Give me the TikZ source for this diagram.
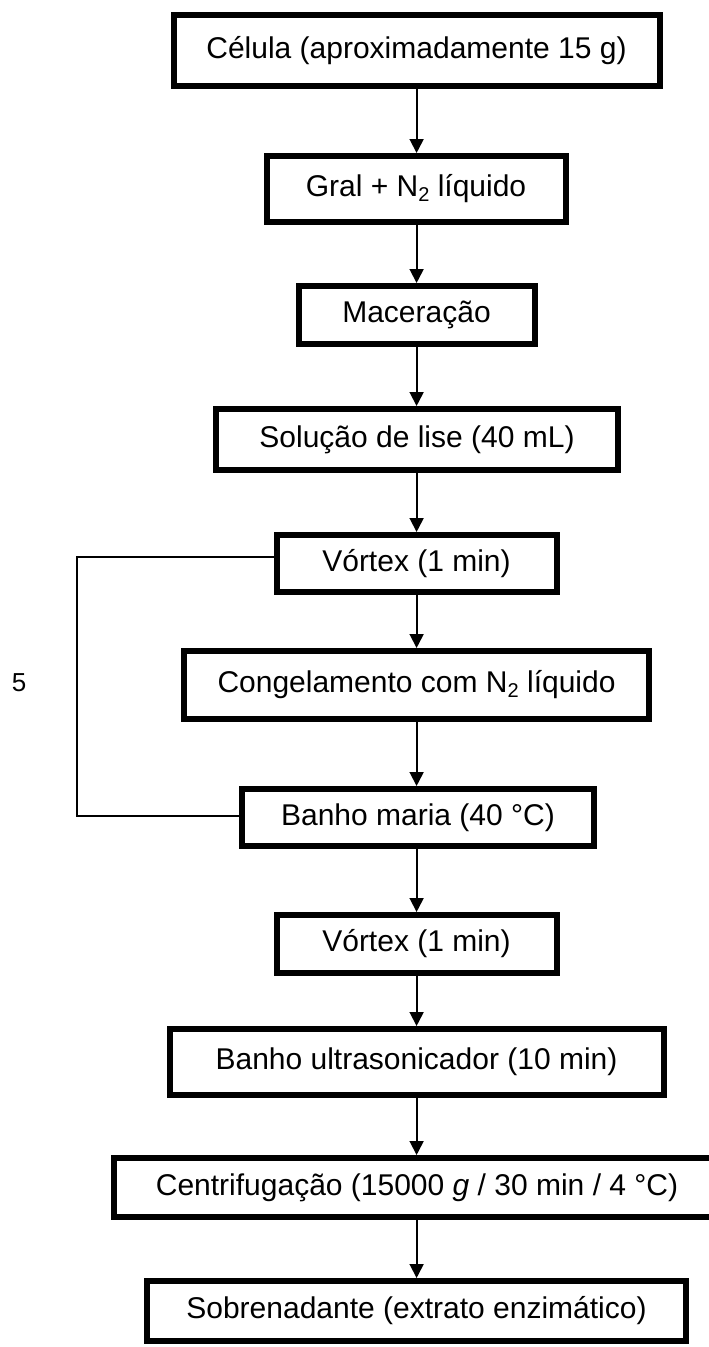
\documentclass[tikz,border=0pt]{standalone}
\usepackage{fontspec}
\setmainfont{Liberation Sans}
\usetikzlibrary{arrows.meta}
\newcommand{\subtwo}{\raisebox{-0.16em}{\fontsize{20}{20}\selectfont 2}}
\begin{document}
\begin{tikzpicture}[x=1pt,y=-1pt,
  stepbox/.style={draw=black,line width=6pt,fill=white,inner sep=0pt,
    font=\fontsize{30}{36}\selectfont,text=black},
  flow/.style={line width=1.8pt,-{Triangle[width=14pt,length=14pt]}},
  looppath/.style={line width=1.5pt}]
\useasboundingbox (0,0) rectangle (709,1347);
\fill[white] (0,0) rectangle (709,1347);
\coordinate (col) at (416.6,0);
\node[stepbox,minimum width=486pt,minimum height=71pt] (cel) at (416.5,50.5) {Célula (aproximadamente 15 g)};
\node[stepbox,minimum width=299pt,minimum height=66pt] (gral) at (416,189) {Gral + N\subtwo{} líquido};
\node[stepbox,minimum width=236pt,minimum height=58pt] (mac) at (416.5,315) {Maceração};
\node[stepbox,minimum width=402pt,minimum height=61pt] (sol) at (417,439.5) {Solução de lise (40 mL)};
\node[stepbox,minimum width=280pt,minimum height=57pt] (vor1) at (416.5,563.5) {Vórtex (1 min)};
\node[stepbox,minimum width=465pt,minimum height=68pt] (cong) at (416.5,685) {Congelamento com N\subtwo{} líquido};
\node[stepbox,minimum width=352pt,minimum height=57pt] (bm) at (418,817.5) {Banho maria (40 °C)};
\node[stepbox,minimum width=280pt,minimum height=58pt] (vor2) at (416.5,944) {Vórtex (1 min)};
\node[stepbox,minimum width=494pt,minimum height=66pt] (ultra) at (416.5,1062) {Banho ultrasonicador (10 min)};
\node[stepbox,minimum width=606pt,minimum height=59pt] (cent) at (417,1187.5) {Centrifugação (15000 \textit{g} / 30 min / 4 °C)};
\node[stepbox,minimum width=539pt,minimum height=60pt] (sob) at (416.5,1311) {Sobrenadante (extrato enzimático)};
\node[font=\fontsize{26}{30}\selectfont,text=black] (rep) at (19,683) {5};
\draw[flow] (cel.south -| col) -- (gral.north -| col);
\draw[flow] (gral.south -| col) -- (mac.north -| col);
\draw[flow] (mac.south -| col) -- (sol.north -| col);
\draw[flow] (sol.south -| col) -- (vor1.north -| col);
\draw[flow] (vor1.south -| col) -- (cong.north -| col);
\draw[flow] (cong.south -| col) -- (bm.north -| col);
\draw[flow] (bm.south -| col) -- (vor2.north -| col);
\draw[flow] (vor2.south -| col) -- (ultra.north -| col);
\draw[flow] (ultra.south -| col) -- (cent.north -| col);
\draw[flow] (cent.south -| col) -- (sob.north -| col);
\coordinate (lp) at (77,557);
\draw[looppath] ([yshift=6.5pt]vor1.west) -- (lp) |- ([yshift=1.5pt]bm.west);
\end{tikzpicture}
\end{document}
